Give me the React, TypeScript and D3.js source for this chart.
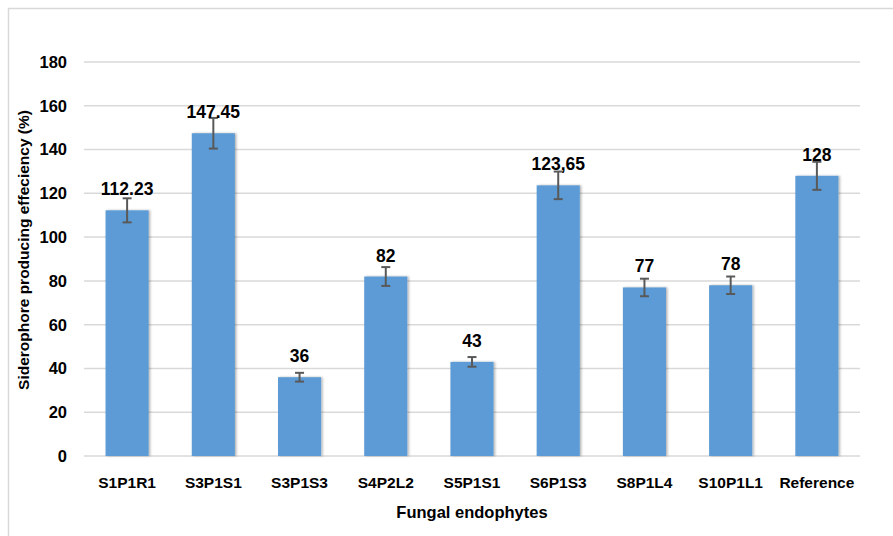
import * as d3 from "d3";

const categories = ["S1P1R1", "S3P1S1", "S3P1S3", "S4P2L2", "S5P1S1", "S6P1S3", "S8P1L4", "S10P1L1", "Reference"];
const values = [112.23, 147.45, 36, 82, 43, 123.65, 77, 78, 128];
const valueLabels = ["112.23", "147.45", "36", "82", "43", "123,65", "77", "78", "128"];
const errors = [5.5, 7, 2, 4.3, 2.2, 6.3, 4, 4, 6.4];
const yTicks = [0, 20, 40, 60, 80, 100, 120, 140, 160, 180];

const width = 893;
const height = 536;
const marginLeft = 84;
const marginRight = 33;
const marginTop = 62;
const marginBottom = 80;
const font = "'Liberation Sans', Arial, sans-serif";

export default function App() {
  const x = d3
    .scaleBand<string>()
    .domain(categories)
    .range([marginLeft, width - marginRight])
    .paddingInner(0.5)
    .paddingOuter(0.25);

  const y = d3
    .scaleLinear()
    .domain([0, 180])
    .range([height - marginBottom, marginTop]);

  return (
    <svg
      width={width}
      height={height}
      style={{ position: "absolute", left: 0, top: 0, background: "#fff" }}
      fontFamily={font}
    >
      <defs>
        <filter id="shadow" x="-20%" y="-10%" width="150%" height="130%">
          <feDropShadow dx="1.5" dy="0" stdDeviation="1.2" floodColor="#000" floodOpacity="0.3" />
        </filter>
      </defs>
      <rect x={8.5} y={8.5} width={width + 20} height={height + 20} fill="#fff" stroke="#d9d9d9" strokeWidth={1.5} />

      {yTicks.map((t) => (
        <g key={t}>
          <line
            x1={marginLeft}
            x2={width - marginRight}
            y1={y(t)}
            y2={y(t)}
            stroke="#d9d9d9"
            strokeWidth={1.5}
          />
          <text x={marginLeft - 17} y={y(t)} dy="0.36em" textAnchor="end" fontSize={16.5} fontWeight="bold" fill="#000">
            {t}
          </text>
        </g>
      ))}

      {categories.map((c, i) => {
        const bx = x(c)!;
        const cx = bx + x.bandwidth() / 2;
        return (
          <g key={c}>
            <rect
              x={bx}
              y={y(values[i])}
              width={x.bandwidth()}
              height={y(0) - y(values[i])}
              fill="#5b9bd5"
              filter="url(#shadow)"
            />
            <line x1={cx} x2={cx} y1={y(values[i] + errors[i])} y2={y(values[i] - errors[i])} stroke="#595959" strokeWidth={2} />
            <line x1={cx - 4.5} x2={cx + 4.5} y1={y(values[i] + errors[i])} y2={y(values[i] + errors[i])} stroke="#595959" strokeWidth={2} />
            <line x1={cx - 4.5} x2={cx + 4.5} y1={y(values[i] - errors[i])} y2={y(values[i] - errors[i])} stroke="#595959" strokeWidth={2} />
            <text x={cx} y={y(values[i]) - 15} textAnchor="middle" fontSize={17.5} fontWeight="bold" fill="#000">
              {valueLabels[i]}
            </text>
            <text x={cx} y={y(0) + 32} textAnchor="middle" fontSize={15.5} fontWeight="bold" fill="#000">
              {c}
            </text>
          </g>
        );
      })}

      <text x={(marginLeft + width - marginRight) / 2} y={518} textAnchor="middle" fontSize={16.5} fontWeight="bold" fill="#000">
        Fungal endophytes
      </text>
      <text
        transform={`translate(29,250) rotate(-90)`}
        textAnchor="middle"
        fontSize={15.5}
        fontWeight="bold"
        fill="#000"
      >
        Siderophore producing effeciency (%)
      </text>
    </svg>
  );
}
